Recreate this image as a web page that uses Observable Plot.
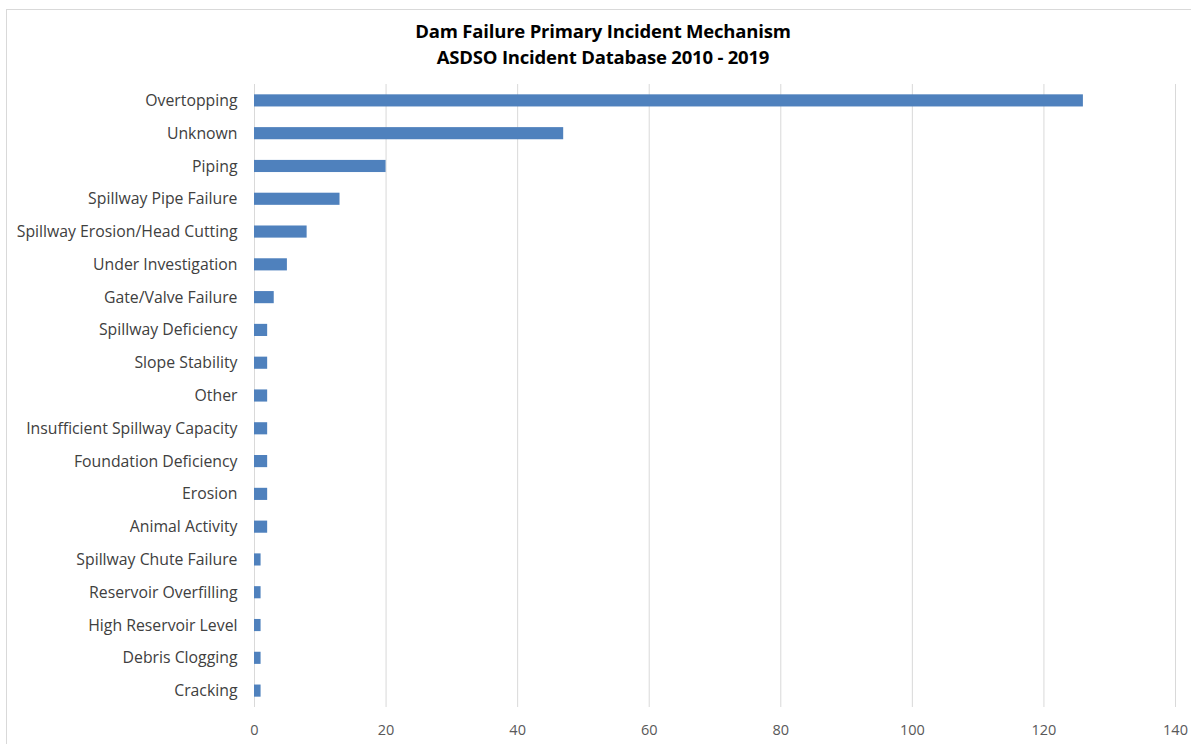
<!DOCTYPE html>
<html>
<head>
<meta charset="utf-8">
<script src="https://cdn.jsdelivr.net/npm/d3@7"></script>
<script src="https://cdn.jsdelivr.net/npm/@observablehq/plot@0.6"></script>
<style>
  html, body { margin: 0; padding: 0; background: #fff; overflow: hidden; }
  #wrap { position: relative; width: 1191px; height: 744px; font-family: "Open Sans", Lato, sans-serif; }
  #frame { position: absolute; left: 6px; top: 9px; width: 1200px; height: 760px; border: 1px solid #d9d9d9; box-sizing: border-box; }
  #title { position: absolute; left: 0; top: 18px; width: 1206px; text-align: center; font-weight: bold; font-size: 18.5px; line-height: 26px; color: #000; letter-spacing: -0.2px; }
  #chart { position: absolute; left: 0; top: 0; }
</style>
</head>
<body>
<div id="wrap">
  <div id="frame"></div>
  <div id="chart"></div>
  <div id="title">Dam Failure Primary Incident Mechanism<br>ASDSO Incident Database 2010 - 2019</div>
</div>
<script>
const categories = [
  "Overtopping", "Unknown", "Piping", "Spillway Pipe Failure", "Spillway Erosion/Head Cutting",
  "Under Investigation", "Gate/Valve Failure", "Spillway Deficiency", "Slope Stability", "Other",
  "Insufficient Spillway Capacity", "Foundation Deficiency", "Erosion", "Animal Activity",
  "Spillway Chute Failure", "Reservoir Overfilling", "High Reservoir Level", "Debris Clogging", "Cracking"
];
const counts = [126, 47, 20, 13, 8, 5, 3, 2, 2, 2, 2, 2, 2, 2, 1, 1, 1, 1, 1];
const xTicks = [0, 20, 40, 60, 80, 100, 120, 140];

const data = categories.map((c, i) => ({category: c, count: counts[i]}));

const chart = Plot.plot({
  width: 1191,
  height: 744,
  marginTop: 84,
  marginBottom: 37,
  marginLeft: 254,
  marginRight: 16,
  style: {fontFamily: "'Open Sans', Lato, sans-serif", fontSize: "14.5px", background: "transparent"},
  x: {domain: [0, 140], ticks: xTicks, label: null},
  y: {domain: categories, paddingInner: 0.63, paddingOuter: 0.315, round: false, label: null},
  marks: [
    Plot.gridX(xTicks, {stroke: "#d9d9d9", strokeOpacity: 1, strokeWidth: 1}),
    Plot.barX(data, {x: "count", y: "category", fill: "#4f81bd"}),
    Plot.axisX({ticks: xTicks, tickSize: 0, tickPadding: 17, fill: "#595959", fontSize: "14.5px", label: null}),
    Plot.axisY({tickSize: 0, tickPadding: 17, fill: "#404040", fontSize: "15.8px", label: null})
  ]
});
document.getElementById("chart").appendChild(chart);
</script>
</body>
</html>
